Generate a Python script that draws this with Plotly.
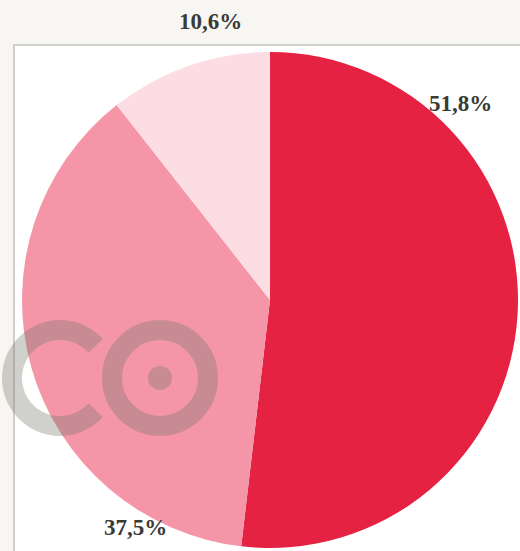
import numpy as np
import plotly.graph_objects as go

labels = ["A", "B", "C"]
values = [51.8, 37.5, 10.6]
value_labels = ["51,8%", "37,5%", "10,6%"]
colors = ["#E62243", "#F596A8", "#FDDDE4"]

W, H = 520, 551

def px(x):
    return x / W

def py(y):
    return 1 - y / H

cx, cy, r = 270, 300, 248

fig = go.Figure()
fig.add_trace(go.Pie(
    labels=labels, values=values, sort=False, direction="clockwise", rotation=0,
    marker=dict(colors=colors, line=dict(width=0)),
    textinfo="none", hoverinfo="label+percent", showlegend=False,
    domain=dict(x=[px(cx - r), px(cx + r)], y=[py(cy + r), py(cy - r)]),
))

shapes = []
# white plot box with border
shapes.append(dict(type="rect", xref="paper", yref="paper", layer="below",
                   x0=px(14), x1=px(530), y0=py(560), y1=py(45),
                   fillcolor="white", line=dict(color="#CFCFCB", width=2)))

wm = "rgba(120,120,110,0.35)"
# O ring
shapes.append(dict(type="circle", xref="paper", yref="paper", layer="above",
                   x0=px(160 - 48), x1=px(160 + 48), y0=py(378 + 48), y1=py(378 - 48),
                   line=dict(color=wm, width=20), fillcolor="rgba(0,0,0,0)"))
# dot
shapes.append(dict(type="circle", xref="paper", yref="paper", layer="above",
                   x0=px(160 - 12), x1=px(160 + 12), y0=py(378 + 12), y1=py(378 - 12),
                   line=dict(width=0), fillcolor=wm))
# C arc
angs = np.linspace(np.radians(42), np.radians(318), 60)
ccx, ccy, cr = 60, 378, 48
pts = [(px(ccx + cr * np.cos(a)), py(ccy - cr * np.sin(a))) for a in angs]
path = "M " + " L ".join(f"{x:.5f},{y:.5f}" for x, y in pts)
shapes.append(dict(type="path", xref="paper", yref="paper", layer="above",
                   path=path, line=dict(color=wm, width=20)))

label_pos = [(460, 104), (135, 527), (210, 22)]
annotations = []
for t, (x, y) in zip(value_labels, label_pos):
    annotations.append(dict(text=f"<b>{t}</b>", x=px(x), y=py(y), xref="paper", yref="paper",
                            showarrow=False, xanchor="center", yanchor="middle",
                            font=dict(family="Liberation Serif", size=23, color="#3A3A36")))

fig.update_layout(
    width=W, height=H, margin=dict(l=0, r=0, t=0, b=0),
    paper_bgcolor="#F7F6F2", plot_bgcolor="#F7F6F2",
    shapes=shapes, annotations=annotations,
)
fig.write_html("out.html", config={"displayModeBar": False},
               post_script="document.body.style.margin='0';document.body.style.overflow='hidden';")
